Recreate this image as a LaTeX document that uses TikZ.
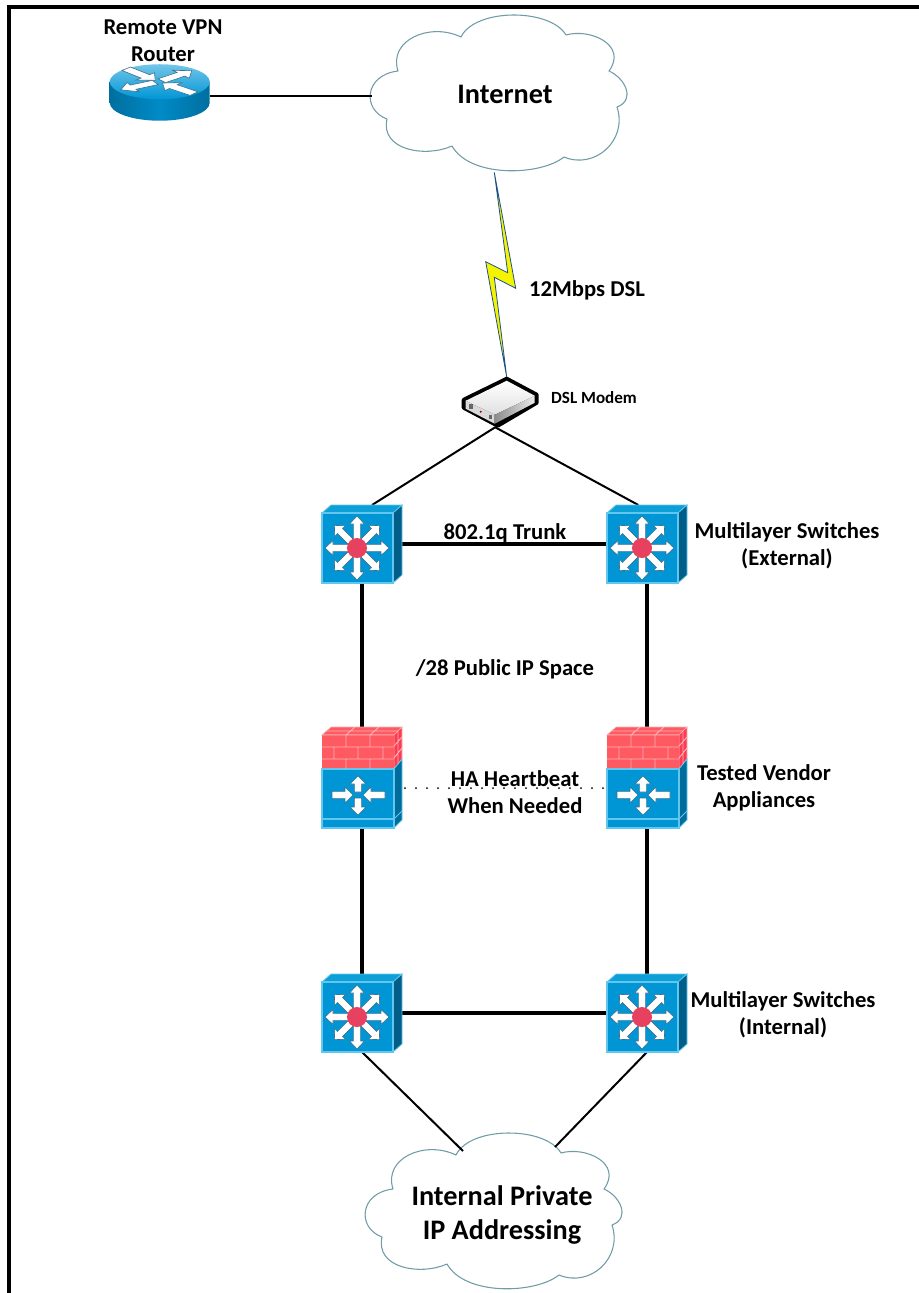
\documentclass[tikz,border=0pt]{standalone}
\usepackage{fontspec}
\setmainfont{Carlito}[BoldFont={Carlito Bold}]
\usetikzlibrary{calc}
\definecolor{blueF}{HTML}{0096D6}
\definecolor{blueEdge}{HTML}{62C6EE}
\definecolor{blueSide}{HTML}{005E88}
\definecolor{blueTop}{HTML}{0C9FD8}
\definecolor{redDot}{HTML}{E8405F}
\definecolor{brick}{HTML}{FF5A62}
\definecolor{brickSide}{HTML}{FF3A50}
\definecolor{mortar}{HTML}{F7B4B6}
\definecolor{cloudline}{HTML}{6F9CA6}
\definecolor{boltline}{HTML}{1F4F8F}
\definecolor{boltfill}{HTML}{F4F400}
\definecolor{arwline}{HTML}{3D6F8C}
\newcommand{\flatarw}[6]{%
  \begin{scope}[rotate=#1]
    \path[fill=white,draw=arwline,line width=.45pt,line join=miter]
      (#2,-#4) -- ({#3-#6},-#4) -- ({#3-#6},-#5) -- (#3,0) -- ({#3-#6},#5) -- ({#3-#6},#4) -- (#2,#4) -- cycle;
  \end{scope}}
\tikzset{
  x=.75pt,y=-.75pt,
  thinlink/.style={line width=1.5pt,black},
  thicklink/.style={line width=3pt,black},
  lbl/.style={font=\bfseries\fontsize{17}{20}\selectfont,align=center,inner sep=0pt,text=black},
  smalllbl/.style={font=\bfseries\fontsize{12.8}{15}\selectfont,align=center,inner sep=0pt,text=black},
  biglbl/.style={font=\bfseries\fontsize{21.2}{25}\selectfont,align=center,inner sep=0pt,text=black},
  swbox/.style={minimum width=60pt,minimum height=58.5pt,inner sep=0pt,outer sep=0pt},
  fwbox/.style={minimum width=60pt,minimum height=76.5pt,inner sep=0pt,outer sep=0pt},
  switchicon/.pic={
    \path[fill=blueTop,draw=blueEdge,line width=.6pt] (0,8) -- (9,0) -- (80,0) -- (71,8) -- cycle;
    \path[fill=blueSide,draw=blueEdge,line width=.6pt] (71,8) -- (80,0) -- (80,70) -- (71,78) -- cycle;
    \path[fill=blueF,draw=blueEdge,line width=.8pt] (0,8) rectangle (71,78);
    \begin{scope}[shift={(35,43)}]
      \foreach \a in {0,45,...,315}{\flatarw{\a}{8}{32}{3.6}{7.5}{8}}
      \fill[redDot] (0,0) circle[radius=7.5pt];
    \end{scope}
  },
  firewallicon/.pic={
    \path[fill=brick,draw=mortar,line width=.5pt] (0,8) -- (9,0) -- (80,0) -- (72,8) -- cycle;
    \path[fill=brickSide,draw=mortar,line width=.5pt] (72,8) -- (80,0) -- (80,32) -- (72,42) -- cycle;
    \path[fill=blueSide!75!blueF,draw=blueEdge,line width=.6pt] (72,42) -- (80,32) -- (80,93) -- (72,101) -- cycle;
    \draw[blueEdge,line width=.6pt] (72,92) -- (80,84);
    \path[fill=brick] (0,8) rectangle (72,42);
    \path[fill=blueF,draw=blueEdge,line width=.8pt] (0,42) rectangle (72,101);
    \draw[blueEdge,line width=.8pt] (0,92) -- (72,92);
    \draw[mortar,line width=.7pt]
      (0,8) -- (72,8) (0,20) -- (72,20) (0,32) -- (72,32)
      (24,8) -- (24,20) (48,8) -- (48,20)
      (12,20) -- (12,32) (36,20) -- (36,32) (61,20) -- (61,32)
      (24,32) -- (24,42) (48,32) -- (48,42)
      (24,8) -- (33,0) (48,8) -- (57,0) (4,4) -- (76,4)
      (72,19) -- (80,10) (72,31) -- (80,21) (76,4) -- (76,37);
    \begin{scope}[shift={(36,68)}]
      \flatarw{90}{3}{19}{3.6}{8}{8}
      \flatarw{-90}{3}{20}{3.6}{8}{8}
      \flatarw{0}{-26}{-5}{3.6}{8}{8}
      \flatarw{180}{-27}{-5}{3.6}{8}{8}
    \end{scope}
  },
  routericon/.pic={
    \path[left color=blueSide!70!blueF,right color=blueSide!70!blueF,middle color=blueF!80!blueSide]
      (1,17) -- (1,38) arc[start angle=180,end angle=0,x radius=50,y radius=18] -- (101,17) -- cycle;
    \path[top color=blueF!55!white,bottom color=blueF] (51,17) ellipse[x radius=50,y radius=17.5];
    \begin{scope}[shift={(50,17)},yscale=.4]
      \flatarw{40}{4}{43}{6}{13}{14}
      \flatarw{208}{4}{43}{6}{13}{14}
      \flatarw{315}{-46}{-5}{6}{13}{14}
      \flatarw{140}{-46}{-5}{6}{13}{14}
    \end{scope}
  },
  modemicon/.pic={
    \path[fill=black,draw=black,line width=3pt,line join=round]
      (44,1) -- (74,17) -- (74,25) -- (35,48) -- (1,30) -- (1,22) -- cycle;
    \path[top color=white,bottom color=black!12] (44,3) -- (72,18) -- (32,37) -- (3,23) -- cycle;
    \path[fill=black!15] (3,23) -- (32,37) -- (32,46) -- (3,31) -- cycle;
    \path[left color=black!45,right color=black!8] (32,37) -- (72,18) -- (72,25) -- (32,46) -- cycle;
    \fill[black!60] (6,26) rectangle (10,31);
    \fill[red!70!black] (18,34) circle[radius=.9pt];
    \fill[black!60] (26,37) rectangle (29,41);
  },
  cloudshape/.pic={
    \path[fill=white,draw=cloudline,line width=.8pt,line join=round]
      (387,119) .. controls (362,110) and (364,75) .. (398,71)
      .. controls (388,40) and (430,22) .. (461,37)
      .. controls (475,8) and (550,8) .. (566,35)
      .. controls (590,28) and (628,45) .. (609,71)
      .. controls (625,78) and (636,100) .. (617,107)
      .. controls (628,140) and (595,170) .. (564,157)
      .. controls (540,176) and (470,178) .. (452,146)
      .. controls (425,158) and (380,150) .. (387,119) -- cycle;
  },
}
\begin{document}
\begin{tikzpicture}
\useasboundingbox (0,0) rectangle (919,1293);
\draw[line width=3pt,miter limit=10] (9,1293) -- (9,7) -- (919,7);

% clouds
\pic at (0,0) {cloudshape};
\pic at (-5,1118) {cloudshape};

% anchor nodes of the icons
\node[minimum width=75.75pt,minimum height=42pt,inner sep=0pt] (router) at (159.5,93) {};
\node[minimum width=56.25pt,minimum height=36.75pt,inner sep=0pt] (modem) at (500.5,402.5) {};
\node[swbox] (sw1) at (362,544) {};
\node[swbox] (sw2) at (647,544) {};
\node[fwbox] (fw1) at (362,778) {};
\node[fwbox] (fw2) at (647,778) {};
\node[swbox] (sw3) at (362,1013) {};
\node[swbox] (sw4) at (647,1013) {};
\coordinate (inetw) at (372,96);
\coordinate (inthubl) at (463,1151);
\coordinate (inthubr) at (555,1147);

% connectors
\draw[thinlink] ([yshift=-2.25pt]router.east) -- (inetw);
\draw[thinlink] ([xshift=-4pt]modem.south) -- ([xshift=7.5pt]sw1.north);
\draw[thinlink] ([xshift=-4pt]modem.south) -- ([xshift=-6.5pt]sw2.north);
\draw[thicklink] (sw1.east) -- (sw2.west);
\draw[thicklink] (sw1.south) -- (fw1.north);
\draw[thicklink] (sw2.south) -- (fw2.north);
\draw[thicklink] (fw1.south) -- (sw3.north);
\draw[thicklink] (fw2.south) -- (sw4.north);
\draw[thicklink] (sw3.east) -- (sw4.west);
\draw[thinlink] (sw3.south) -- (inthubl);
\draw[thinlink] (sw4.south) -- (inthubr);
\draw[line width=1.5pt,line cap=round,dash pattern=on 0pt off 8.25pt] ([xshift=2.25pt,yshift=-7.5pt]fw1.east) -- ([yshift=-7.5pt]fw2.west);

% lightning
\path[fill=boltfill,draw=boltline,line width=.6pt,line join=miter]
  (494.3,172.3) -- (515.7,288.3) -- (494.3,277.3) -- (506.7,377) -- (485.7,261.7) -- (507.7,272.7) -- cycle;

% icons
\pic at (router.north west) {routericon};
\pic at (modem.north west) {modemicon};
\foreach \n in {sw1,sw2,sw3,sw4}{\pic at (\n.north west) {switchicon};}
\foreach \n in {fw1,fw2}{\pic at (\n.north west) {firewallicon};}

% labels
\node[lbl] (tRouter) at (163,41) {Remote VPN\\Router};
\node[biglbl] (tInternet) at (505,94) {Internet};
\node[lbl] (tDsl) at (587,290) {12Mbps DSL};
\node[smalllbl] (tModem) at (594,398) {DSL Modem};
\node[lbl] (tTrunk) at (505,533) {802.1q Trunk};
\node[lbl] (tExt) at (787,546) {Multilayer Switches\\(External)};
\node[lbl] (tPublic) at (505,669) {/28 Public IP Space};
\node[lbl] (tHa) at (515,792) {HA Heartbeat\\When Needed};
\node[lbl] (tVendor) at (764,788) {Tested Vendor\\Appliances};
\node[lbl] (tInt) at (783,1015) {Multilayer Switches\\(Internal)};
\node[biglbl] (tPrivate) at (502,1215) {Internal Private\\IP Addressing};
\end{tikzpicture}
\end{document}
